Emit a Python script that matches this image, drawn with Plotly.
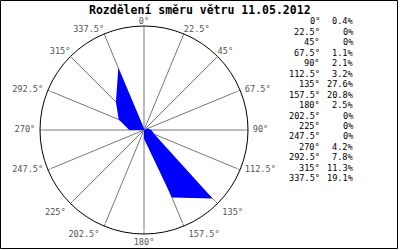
import plotly.graph_objects as go

directions = [0, 22.5, 45, 67.5, 90, 112.5, 135, 157.5, 180, 202.5, 225, 247.5, 270, 292.5, 315, 337.5]
percent = [0.4, 0, 0, 1.1, 2.1, 3.2, 27.6, 20.8, 2.5, 0, 0, 0, 4.2, 7.8, 11.3, 19.1]
dir_labels = ["0°", "22.5°", "45°", "67.5°", "90°", "112.5°", "135°", "157.5°",
              "180°", "202.5°", "225°", "247.5°", "270°", "292.5°", "315°", "337.5°"]
pct_labels = ["0.4%", "0%", "0%", "1.1%", "2.1%", "3.2%", "27.6%", "20.8%",
              "2.5%", "0%", "0%", "0%", "4.2%", "7.8%", "11.3%", "19.1%"]
title_text = "Rozdělení směru větru 11.05.2012"

W, H = 400, 250
MONO = "DejaVu Sans Mono"
RMAX = 29.6

label_pos = ["top center", "top right", "top right", "middle right", "middle right",
             "middle right", "bottom right", "bottom right", "bottom center",
             "bottom left", "bottom left", "middle left", "middle left",
             "middle left", "top left", "top left"]
# invisible marker sizes only control the label offset from the circle
label_pad = [0 if p.startswith("top") else 6 for p in label_pos]

fig = go.Figure()
fig.add_trace(go.Scatterpolar(
    r=percent + [percent[0]],
    theta=directions + [directions[0]],
    mode="none",
    fill="toself",
    fillcolor="#0000ff",
    hoverinfo="skip",
    showlegend=False,
))
fig.add_trace(go.Scatterpolar(
    r=[RMAX] * len(directions),
    theta=directions,
    mode="markers+text",
    marker=dict(size=label_pad, color="rgba(0,0,0,0)"),
    text=dir_labels,
    textposition=label_pos,
    textfont=dict(family=MONO, size=8.6, color="#555555"),
    cliponaxis=False,
    hoverinfo="skip",
    showlegend=False,
))

annotations = [dict(
    text="<b>" + title_text + "</b>", x=0.5, y=1 - 9.5 / H, xref="paper", yref="paper",
    xanchor="center", yanchor="middle", showarrow=False,
    font=dict(family=MONO, size=11.5, color="black"),
)]
row0, step = 21.5, 10.45
for i, (d, p) in enumerate(zip(dir_labels, pct_labels)):
    yy = 1 - (row0 + i * step) / H
    annotations.append(dict(text=d, x=321.5 / W, y=yy, xref="paper", yref="paper",
                            xanchor="right", yanchor="middle", showarrow=False,
                            font=dict(family=MONO, size=8.6, color="black")))
    annotations.append(dict(text=p, x=356 / W, y=yy, xref="paper", yref="paper",
                            xanchor="right", yanchor="middle", showarrow=False,
                            font=dict(family=MONO, size=8.6, color="black")))

fig.update_layout(
    width=W, height=H,
    margin=dict(l=0, r=0, t=0, b=0),
    paper_bgcolor="white",
    plot_bgcolor="white",
    showlegend=False,
    polar=dict(
        domain=dict(x=[40 / W, 248 / W], y=[1 - 234 / H, 1 - 26 / H]),
        bgcolor="white",
        angularaxis=dict(
            direction="clockwise", rotation=90,
            tickmode="array", tickvals=directions,
            showticklabels=False,
            showgrid=True, gridcolor="#777777", gridwidth=1,
            showline=True, linecolor="black", linewidth=1,
            ticks="",
        ),
        radialaxis=dict(visible=False, range=[0, RMAX], showgrid=False),
    ),
    annotations=annotations,
    shapes=[dict(type="rect", xref="paper", yref="paper",
                 x0=0.5 / W, x1=397.5 / W, y0=1 - 248.5 / H, y1=1 - 0.5 / H,
                 line=dict(color="black", width=1), fillcolor="rgba(0,0,0,0)")],
)

fig.write_html("out.html")
